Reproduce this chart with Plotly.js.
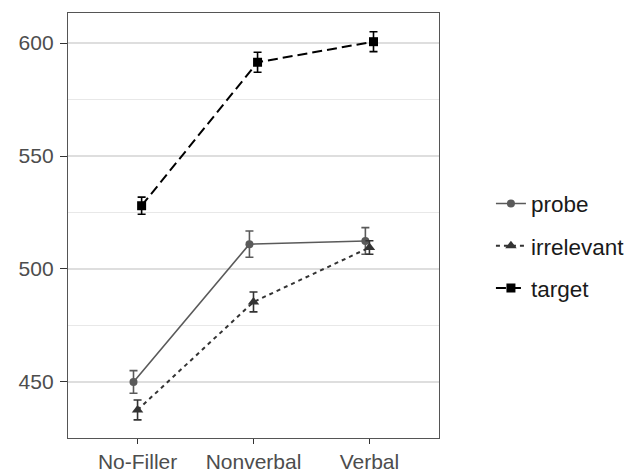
<!DOCTYPE html>
<html>
<head>
<meta charset="utf-8">
<script src="https://cdn.plot.ly/plotly-3.0.1.min.js"></script>
<style>html,body{margin:0;padding:0;background:#fff;}#chart{width:644px;height:472px;}</style>
</head>
<body>
<div id="chart"></div>
<script>
const categories = ["No-Filler", "Nonverbal", "Verbal"];
const seriesNames = ["probe", "irrelevant", "target"];
const probeMean = [450.0, 511.0, 512.4];
const probeErr = [5.0, 5.8, 5.9];
const irrelevantMean = [437.6, 485.4, 509.5];
const irrelevantErr = [4.4, 4.4, 3.0];
const targetMean = [528.0, 591.5, 600.6];
const targetErr = [3.8, 4.4, 4.4];
const yTickVals = [450, 500, 550, 600];

const idx = categories.map((c, i) => i);
const dodge = 0.035;
const styles = [
  {mean: probeMean, err: probeErr, color: "#5a5a5a", symbol: "circle", size: 8, dash: "solid", lw: 1.6, off: -dodge},
  {mean: irrelevantMean, err: irrelevantErr, color: "#333333", symbol: "triangle-up", size: 10, dash: "4px,4px", lw: 2, off: 0},
  {mean: targetMean, err: targetErr, color: "#000000", symbol: "square", size: 9, dash: "10px,5px", lw: 2, off: dodge}
];
const traces = styles.map((s, k) => ({
  type: "scatter",
  mode: "lines+markers",
  name: seriesNames[k],
  legendgroup: seriesNames[k],
  x: idx.map(i => i + s.off),
  y: s.mean,
  line: {color: s.color, width: s.lw, dash: s.dash},
  marker: {color: s.color, symbol: s.symbol, size: s.size},
  error_y: {type: "data", array: s.err, visible: true, color: s.color, thickness: 1.6, width: 4}
}));

const layout = {
  width: 644, height: 472,
  margin: {l: 68, r: 205, t: 13, b: 34},
  paper_bgcolor: "#fff", plot_bgcolor: "#fff",
  font: {family: "Liberation Sans, Arial, sans-serif", size: 21, color: "#4d4d4d"},
  showlegend: true,
  legend: {
    x: 1.14, xanchor: "left", y: 0.452, yanchor: "middle",
    font: {size: 22.5, color: "#1a1a1a"},
    traceorder: "grouped", tracegroupgap: 10,
    bgcolor: "rgba(0,0,0,0)"
  },
  xaxis: {
    range: [-0.6, 2.6],
    tickmode: "array", tickvals: idx, ticktext: categories,
    showgrid: false, zeroline: false,
    ticks: "outside", ticklen: 5, tickcolor: "#333", tickwidth: 1,
    showline: true, mirror: true, linecolor: "#555", linewidth: 1.2,
    tickfont: {size: 21, color: "#4d4d4d"}
  },
  yaxis: {
    range: [425.2, 613.3],
    tickmode: "array", tickvals: yTickVals,
    showgrid: true, gridcolor: "#dedede", gridwidth: 2,
    minor: {dtick: 25, tick0: 425, showgrid: true, gridcolor: "#e8e8e8", gridwidth: 1},
    zeroline: false,
    ticks: "outside", ticklen: 7, tickcolor: "#333", tickwidth: 1,
    ticklabelstandoff: 2,
    showline: true, mirror: true, linecolor: "#555", linewidth: 1.2,
    tickfont: {size: 21, color: "#4d4d4d"}
  }
};
Plotly.newPlot("chart", traces, layout, {displayModeBar: false, staticPlot: true});
</script>
</body>
</html>
